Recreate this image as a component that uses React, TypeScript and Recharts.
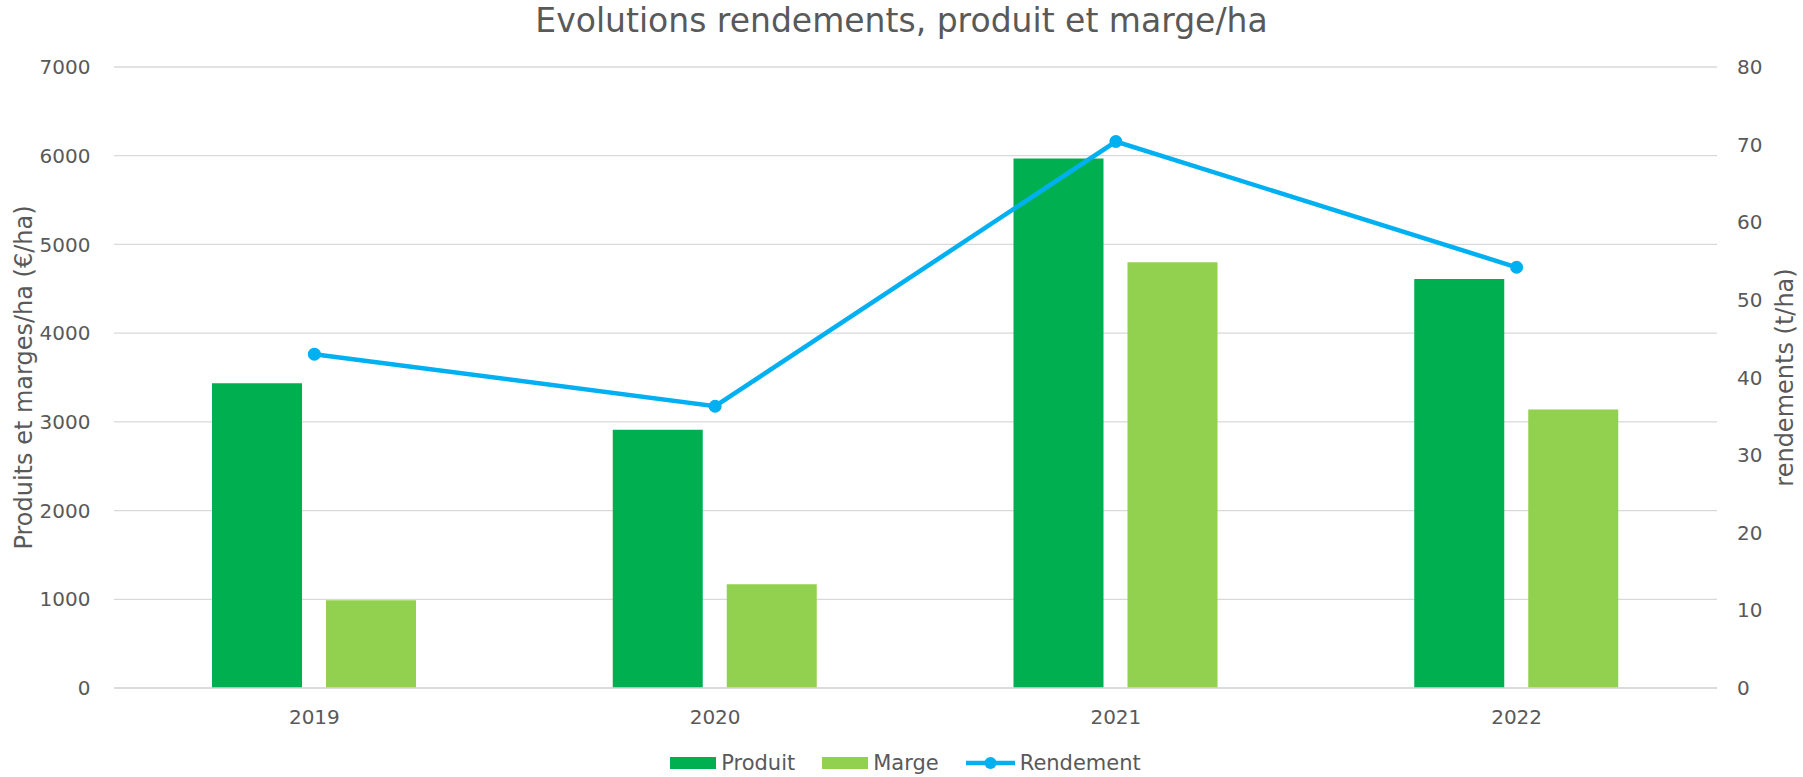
import React from 'react';
import { ComposedChart, Bar, Line, XAxis, YAxis, CartesianGrid, Legend } from 'recharts';

const years = ['2019', '2020', '2021', '2022'];
const produit = [3435, 2910, 5970, 4610];
const marge = [990, 1170, 4800, 3140];
const rendement = [43.0, 36.3, 70.4, 54.2];
const leftTicks = [0, 1000, 2000, 3000, 4000, 5000, 6000, 7000];
const rightTicks = [0, 10, 20, 30, 40, 50, 60, 70, 80];

const TITLE = 'Evolutions rendements, produit et marge/ha';
const LEFT_TITLE = 'Produits et marges/ha (€/ha)';
const RIGHT_TITLE = 'rendements (t/ha)';

const data = years.map((y, i) => ({ year: y, Produit: produit[i], Marge: marge[i], Rendement: rendement[i] }));

const FONT = "'DejaVu Sans', Verdana, sans-serif";
const TXT = '#595959';
const C_PROD = '#00B050';
const C_MARGE = '#92D050';
const C_REND = '#00B0F0';

const W = 1803;
const H = 777;

const renderLegend = () => {
  const items = [
    { name: 'Produit', color: C_PROD, type: 'rect' },
    { name: 'Marge', color: C_MARGE, type: 'rect' },
    { name: 'Rendement', color: C_REND, type: 'line' },
  ];
  return (
    <div
      style={{
        height: 40,
        boxSizing: 'border-box',
        paddingTop: 12,
        paddingLeft: 8,
        display: 'flex',
        justifyContent: 'center',
        alignItems: 'center',
        fontFamily: FONT,
        fontSize: 21,
        color: TXT,
      }}
    >
      {items.map((it, i) => (
        <div key={it.name} style={{ display: 'flex', alignItems: 'center', marginLeft: i === 0 ? 0 : 27 }}>
          {it.type === 'rect' ? (
            <svg width={46} height={12} style={{ display: 'block' }}>
              <rect x={0} y={0} width={46} height={12} fill={it.color} />
            </svg>
          ) : (
            <svg width={49} height={14} style={{ display: 'block' }}>
              <line x1={0} y1={7} x2={49} y2={7} stroke={it.color} strokeWidth={4.5} strokeLinecap="round" />
              <circle cx={24.5} cy={7} r={6} fill={it.color} />
            </svg>
          )}
          <span style={{ marginLeft: 5, lineHeight: '28px' }}>{it.name}</span>
        </div>
      ))}
    </div>
  );
};

const LeftTitle = (props: any) => {
  const vb = props.viewBox || { x: 0, y: 67, width: 114, height: 620 };
  const cx = vb.x + 24;
  const cy = vb.y + vb.height / 2;
  return (
    <text
      x={cx}
      y={cy}
      transform={`rotate(-90, ${cx}, ${cy})`}
      textAnchor="middle"
      dominantBaseline="central"
      fill={TXT}
      fontSize={24}
      fontFamily={FONT}
    >
      {LEFT_TITLE}
    </text>
  );
};

const RightTitle = (props: any) => {
  const vb = props.viewBox || { x: 1717, y: 67, width: 86, height: 620 };
  const cx = vb.x + 68;
  const cy = vb.y + vb.height / 2;
  return (
    <text
      x={cx}
      y={cy}
      transform={`rotate(-90, ${cx}, ${cy})`}
      textAnchor="middle"
      dominantBaseline="central"
      fill={TXT}
      fontSize={24}
      fontFamily={FONT}
    >
      {RIGHT_TITLE}
    </text>
  );
};

export default function App() {
  return (
    <div style={{ position: 'absolute', left: 0, top: 0, width: W, height: H, background: '#fff' }}>
      <ComposedChart
        width={W}
        height={H}
        data={data}
        margin={{ top: 67, right: 0, bottom: 0, left: 0 }}
        barSize={90}
        barGap={24}
      >
        <CartesianGrid yAxisId="left" vertical={false} stroke="#D9D9D9" strokeWidth={1.3} />
        <XAxis
          dataKey="year"
          height={49}
          axisLine={{ stroke: '#D9D9D9', strokeWidth: 1.5 }}
          tickLine={false}
          tickSize={0}
          tickMargin={22}
          tick={{ fill: TXT, fontSize: 20, fontFamily: FONT }}
        />
        <YAxis
          yAxisId="left"
          orientation="left"
          width={114}
          domain={[0, 7000]}
          ticks={leftTicks}
          axisLine={false}
          tickLine={false}
          tickSize={0}
          tickMargin={23.5}
          tick={{ fill: TXT, fontSize: 20, fontFamily: FONT }}
          label={{ content: LeftTitle }}
        />
        <YAxis
          yAxisId="right"
          orientation="right"
          width={86}
          domain={[0, 80]}
          ticks={rightTicks}
          axisLine={false}
          tickLine={false}
          tickSize={0}
          tickMargin={20}
          tick={{ fill: TXT, fontSize: 20, fontFamily: FONT, textAnchor: 'start' }}
          label={{ content: RightTitle }}
        />
        <Bar yAxisId="left" dataKey="Produit" fill={C_PROD} isAnimationActive={false} />
        <Bar yAxisId="left" dataKey="Marge" fill={C_MARGE} isAnimationActive={false} />
        <Line
          yAxisId="right"
          type="linear"
          dataKey="Rendement"
          stroke={C_REND}
          strokeWidth={4.5}
          dot={{ r: 6.5, fill: C_REND, stroke: C_REND, strokeWidth: 0 }}
          activeDot={false}
          isAnimationActive={false}
        />
        <Legend verticalAlign="bottom" height={40} content={renderLegend} />
      </ComposedChart>
      <svg
        width={W}
        height={50}
        style={{ position: 'absolute', left: 0, top: 0, pointerEvents: 'none' }}
      >
        <text x={W / 2} y={32} textAnchor="middle" fill={TXT} fontSize={33} fontFamily={FONT}>
          {TITLE}
        </text>
      </svg>
    </div>
  );
}
